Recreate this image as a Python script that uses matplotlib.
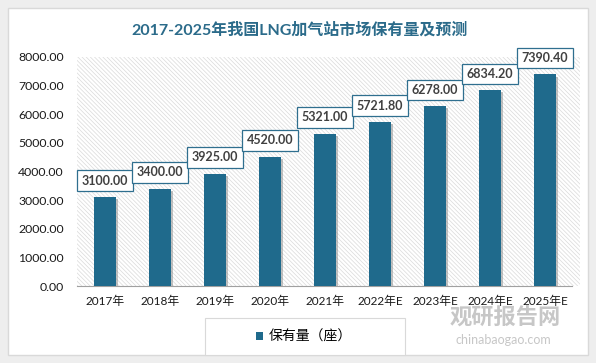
import matplotlib.pyplot as plt
import matplotlib.patheffects as pe
from matplotlib.patches import Rectangle, Patch

plt.rcParams['font.family'] = ['Lato', 'Noto Sans CJK SC', 'DejaVu Sans']
plt.rcParams['hatch.linewidth'] = 0.5

# data
years = ['2017年', '2018年', '2019年', '2020年', '2021年',
         '2022年E', '2023年E', '2024年E', '2025年E']
stock = [3100.00, 3400.00, 3925.00, 4520.00, 5321.00,
         5721.80, 6278.00, 6834.20, 7390.40]
yticks = [0, 1000, 2000, 3000, 4000, 5000, 6000, 7000, 8000]

title = '2017-2025年我国LNG加气站市场保有量及预测'
series_name = '保有量（座）'

bar_color = '#1f6a8c'

fig = plt.figure(figsize=(5.96, 3.63), dpi=100)
fig.patch.set_facecolor('#eeeeee')

# white card behind everything
fig.patches.append(Rectangle((8 / 596, 8 / 363), 580 / 596, 347 / 363,
                             transform=fig.transFigure, facecolor='white',
                             edgecolor='#d9d9d9', linewidth=1, zorder=-10))
# legend frame
fig.patches.append(Rectangle((205 / 596, 8 / 363), 200 / 596, 37 / 363,
                             transform=fig.transFigure, facecolor='white',
                             edgecolor='#d9d9d9', linewidth=0.8, zorder=-5))

ax = fig.add_axes([0.130, 0.212, 0.8305, 0.631])
ax.set_facecolor('none')

# hatched plot background
ax.add_patch(Rectangle((0, 0), 1.015, 1, transform=ax.transAxes, fill=False,
                       hatch='\\\\\\\\\\\\\\\\', edgecolor='#dadada', linewidth=0,
                       zorder=0, clip_on=False))

x = list(range(len(years)))
bars = ax.bar(x, stock, width=0.4, color=bar_color, zorder=3)
for b in bars:
    b.set_path_effects([pe.SimplePatchShadow(offset=(1.5, -1.5), shadow_rgbFace='#888888', alpha=0.5),
                        pe.Normal()])

for xi, v in zip(x, stock):
    ax.annotate('%.2f' % v, (xi, v), xytext=(0, 7.5), textcoords='offset points',
                ha='center', va='bottom', fontsize=9, fontweight='bold',
                color='#404040', zorder=5,
                bbox=dict(boxstyle='square,pad=0.35', facecolor='white',
                          edgecolor='#2f6f8f', linewidth=0.9))

ax.set_xlim(-0.5, len(years) - 0.5)
ax.set_ylim(0, 8000)
ax.set_yticks(yticks)
ax.set_yticklabels(['%.2f' % t for t in yticks])
ax.set_xticks(x)
ax.set_xticklabels(years)
ax.tick_params(axis='both', length=0, colors='#1a1a1a')
ax.tick_params(axis='y', pad=10, labelsize=8.8)
ax.tick_params(axis='x', pad=7, labelsize=8.5)

for s in ['top', 'right', 'left']:
    ax.spines[s].set_visible(False)
ax.spines['bottom'].set_color('#a0a0a0')
ax.spines['bottom'].set_linewidth(0.8)

fig.text(0.503, 0.917, title, ha='center', va='center', fontsize=11.5,
         fontweight='bold', color='#2b6b8a')

fig.legend(handles=[Patch(facecolor=bar_color, label=series_name)],
           loc='center', bbox_to_anchor=(0.51, 0.074), frameon=False,
           handlelength=0.55, handleheight=0.55, handletextpad=0.4,
           prop={'size': 10})

# watermark
fig.text(0.848, 0.124, '观研报告网', ha='center', va='center', fontsize=16,
         fontweight='bold', color='#bdbdbd', alpha=0.85)
fig.text(0.845, 0.063, 'chinabaogao.com', ha='center', va='center', fontsize=9,
         color='#bdbdbd', alpha=0.85)

fig.savefig('out.png', dpi=100, facecolor=fig.get_facecolor())
